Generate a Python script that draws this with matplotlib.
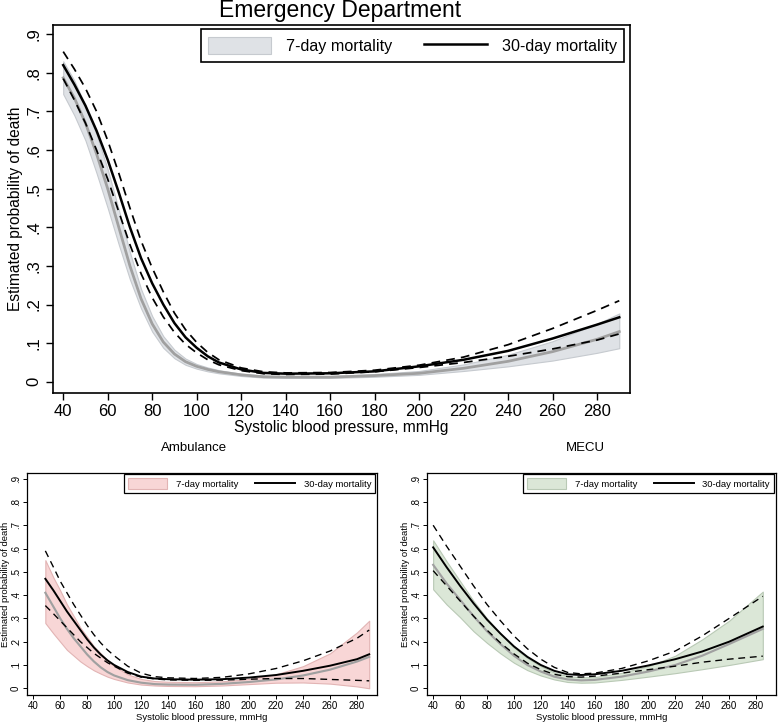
import matplotlib
matplotlib.use('Agg')
import matplotlib.pyplot as plt
import numpy as np
from matplotlib.patches import Patch
from matplotlib.lines import Line2D

plt.rcParams['font.family'] = ['Liberation Sans', 'DejaVu Sans']

# Emergency Department
ed_sbp = [40,45,50,55,60,65,70,75,80,85,90,95,100,105,110,120,130,140,160,180,200,220,240,260,280,290]
ed_30 = [0.82,0.77,0.715,0.65,0.575,0.49,0.40,0.32,0.255,0.2,0.152,0.115,0.088,0.066,0.05,0.032,0.023,0.021,0.022,0.027,0.04,0.057,0.08,0.112,0.148,0.167]
ed_30_hi = [0.855,0.81,0.76,0.70,0.625,0.54,0.45,0.365,0.295,0.233,0.178,0.135,0.102,0.076,0.057,0.036,0.026,0.023,0.024,0.03,0.043,0.064,0.096,0.138,0.185,0.21]
ed_30_lo = [0.785,0.73,0.67,0.60,0.525,0.44,0.355,0.28,0.218,0.168,0.128,0.097,0.075,0.057,0.044,0.029,0.021,0.019,0.02,0.026,0.037,0.05,0.066,0.085,0.108,0.124]
ed_7 = [0.787,0.735,0.67,0.59,0.50,0.40,0.30,0.215,0.15,0.103,0.072,0.052,0.04,0.032,0.026,0.018,0.013,0.012,0.012,0.016,0.022,0.035,0.053,0.078,0.11,0.13]
ed_7_lo = [0.745,0.69,0.625,0.54,0.45,0.355,0.265,0.19,0.13,0.088,0.061,0.044,0.034,0.027,0.022,0.015,0.011,0.01,0.01,0.013,0.018,0.028,0.04,0.055,0.075,0.087]
ed_7_hi = [0.83,0.78,0.715,0.64,0.55,0.445,0.335,0.24,0.17,0.118,0.083,0.06,0.046,0.037,0.03,0.021,0.016,0.015,0.015,0.02,0.028,0.045,0.07,0.105,0.15,0.177]

# Ambulance
amb_sbp = [49,55,60,65,70,75,80,85,90,95,100,110,120,130,140,160,180,200,220,240,260,280,289]
amb_30 = [0.47,0.42,0.375,0.33,0.29,0.25,0.21,0.175,0.145,0.12,0.1,0.07,0.05,0.042,0.039,0.037,0.039,0.046,0.057,0.075,0.097,0.125,0.146]
amb_30_hi = [0.59,0.52,0.46,0.41,0.36,0.315,0.27,0.23,0.195,0.165,0.14,0.095,0.065,0.05,0.045,0.042,0.047,0.062,0.085,0.118,0.16,0.215,0.25]
amb_30_lo = [0.355,0.32,0.29,0.26,0.23,0.2,0.175,0.15,0.13,0.11,0.095,0.065,0.048,0.04,0.036,0.034,0.035,0.039,0.042,0.042,0.038,0.034,0.032]
amb_7 = [0.41,0.35,0.30,0.255,0.215,0.18,0.145,0.115,0.09,0.07,0.055,0.035,0.024,0.018,0.016,0.015,0.019,0.027,0.038,0.055,0.08,0.115,0.135]
amb_7_hi = [0.55,0.475,0.42,0.36,0.31,0.26,0.22,0.18,0.15,0.12,0.095,0.06,0.04,0.031,0.028,0.026,0.03,0.04,0.06,0.095,0.15,0.24,0.29]
amb_7_lo = [0.28,0.235,0.2,0.165,0.14,0.115,0.095,0.077,0.063,0.05,0.04,0.025,0.016,0.012,0.01,0.009,0.012,0.018,0.024,0.025,0.02,0.008,0.0]

# MECU
mecu_sbp = [40,50,60,70,80,90,100,110,120,130,140,150,160,180,200,220,240,260,285]
mecu_30 = [0.605,0.52,0.44,0.365,0.295,0.235,0.18,0.135,0.1,0.075,0.06,0.057,0.06,0.075,0.098,0.125,0.158,0.2,0.265]
mecu_30_hi = [0.70,0.61,0.525,0.44,0.36,0.29,0.225,0.17,0.125,0.09,0.068,0.062,0.065,0.085,0.118,0.16,0.225,0.30,0.395]
mecu_30_lo = [0.505,0.44,0.375,0.31,0.25,0.195,0.148,0.108,0.08,0.06,0.05,0.048,0.052,0.065,0.08,0.095,0.112,0.125,0.138]
mecu_7 = [0.53,0.45,0.38,0.31,0.245,0.19,0.14,0.1,0.072,0.05,0.038,0.034,0.036,0.05,0.072,0.1,0.14,0.19,0.255]
mecu_7_hi = [0.635,0.545,0.46,0.375,0.30,0.235,0.175,0.13,0.095,0.068,0.052,0.047,0.048,0.066,0.095,0.14,0.21,0.29,0.415]
mecu_7_lo = [0.425,0.36,0.305,0.245,0.195,0.15,0.11,0.078,0.055,0.038,0.027,0.024,0.025,0.036,0.05,0.065,0.082,0.1,0.125]

xticks = list(range(40, 281, 20))
yticks = [0, .1, .2, .3, .4, .5, .6, .7, .8, .9]
ylabels = ['0', '.1', '.2', '.3', '.4', '.5', '.6', '.7', '.8', '.9']


def panel(ax, x, m30, hi30, lo30, m7, hi7, lo7, fillc, edgec, fs, lfs, lw, big):
    ax.fill_between(x, lo7, hi7, facecolor=fillc, edgecolor=edgec, linewidth=0.8, zorder=1)
    ax.plot(x, m7, color='#a0a0a0', lw=lw * 1.1, zorder=2)
    ax.plot(x, hi30, color='black', lw=lw * 0.7, dashes=(5, 3.5), zorder=3)
    ax.plot(x, lo30, color='black', lw=lw * 0.7, dashes=(5, 3.5), zorder=3)
    ax.plot(x, m30, color='black', lw=lw, zorder=4)
    ax.set_xlim(35.4, 294.8)
    ax.set_ylim(-0.029, 0.924)
    ax.set_xticks(xticks)
    ax.set_yticks(yticks)
    ax.set_yticklabels(ylabels, rotation=90, va='center')
    ax.tick_params(direction='out', labelsize=fs, length=5 if big else 3,
                   width=1.0 if big else 0.7, pad=3 if big else 1.5)
    for s in ax.spines.values():
        s.set_linewidth(1.2 if big else 0.9)
    ax.set_xlabel('Systolic blood pressure, mmHg', fontsize=lfs, labelpad=1)
    ax.set_ylabel('Estimated probability of death', fontsize=lfs, labelpad=3 if big else 0.5)
    handles = [Patch(facecolor=fillc, edgecolor=edgec, linewidth=0.8),
               Line2D([], [], color='black', lw=lw)]
    leg = ax.legend(handles, ['7-day mortality', '30-day mortality'], ncol=2,
                    loc='upper right', bbox_to_anchor=(0.99, 0.988) if big else (0.995, 0.995),
                    borderaxespad=0, fontsize=lfs * (1.04 if big else 1.0),
                    handlelength=3.9 if big else 4.2,
                    handleheight=1.3, columnspacing=2.0 if big else 1.8, fancybox=False,
                    framealpha=1, edgecolor='black', borderpad=0.45, handletextpad=0.9)
    leg.get_frame().set_linewidth(1.2 if big else 0.9)


fig = plt.figure(figsize=(7.78, 7.24), dpi=100)

ax1 = fig.add_axes([0.0681, 0.4572, 0.7416, 0.5083])
panel(ax1, ed_sbp, ed_30, ed_30_hi, ed_30_lo, ed_7, ed_7_hi, ed_7_lo,
      '#dfe2e6', '#c6cacf', 12, 11.2, 1.8, True)
fig.text(0.437, 0.986, 'Emergency Department', ha='center', va='center', fontsize=16.5)

ax2 = fig.add_axes([0.0347, 0.0400, 0.4499, 0.3066])
panel(ax2, amb_sbp, amb_30, amb_30_hi, amb_30_lo, amb_7, amb_7_hi, amb_7_lo,
      '#f8d6d6', '#e2b4b4', 7.0, 6.8, 1.4, False)
fig.text(0.25, 0.381, 'Ambulance', ha='center', va='center', fontsize=9.5)

ax3 = fig.add_axes([0.5488, 0.0400, 0.4486, 0.3066])
panel(ax3, mecu_sbp, mecu_30, mecu_30_hi, mecu_30_lo, mecu_7, mecu_7_hi, mecu_7_lo,
      '#dbe7d7', '#b9c9b5', 7.0, 6.8, 1.4, False)
fig.text(0.752, 0.381, 'MECU', ha='center', va='center', fontsize=9.5)

plt.savefig('out.png', dpi=100)
plt.close()
